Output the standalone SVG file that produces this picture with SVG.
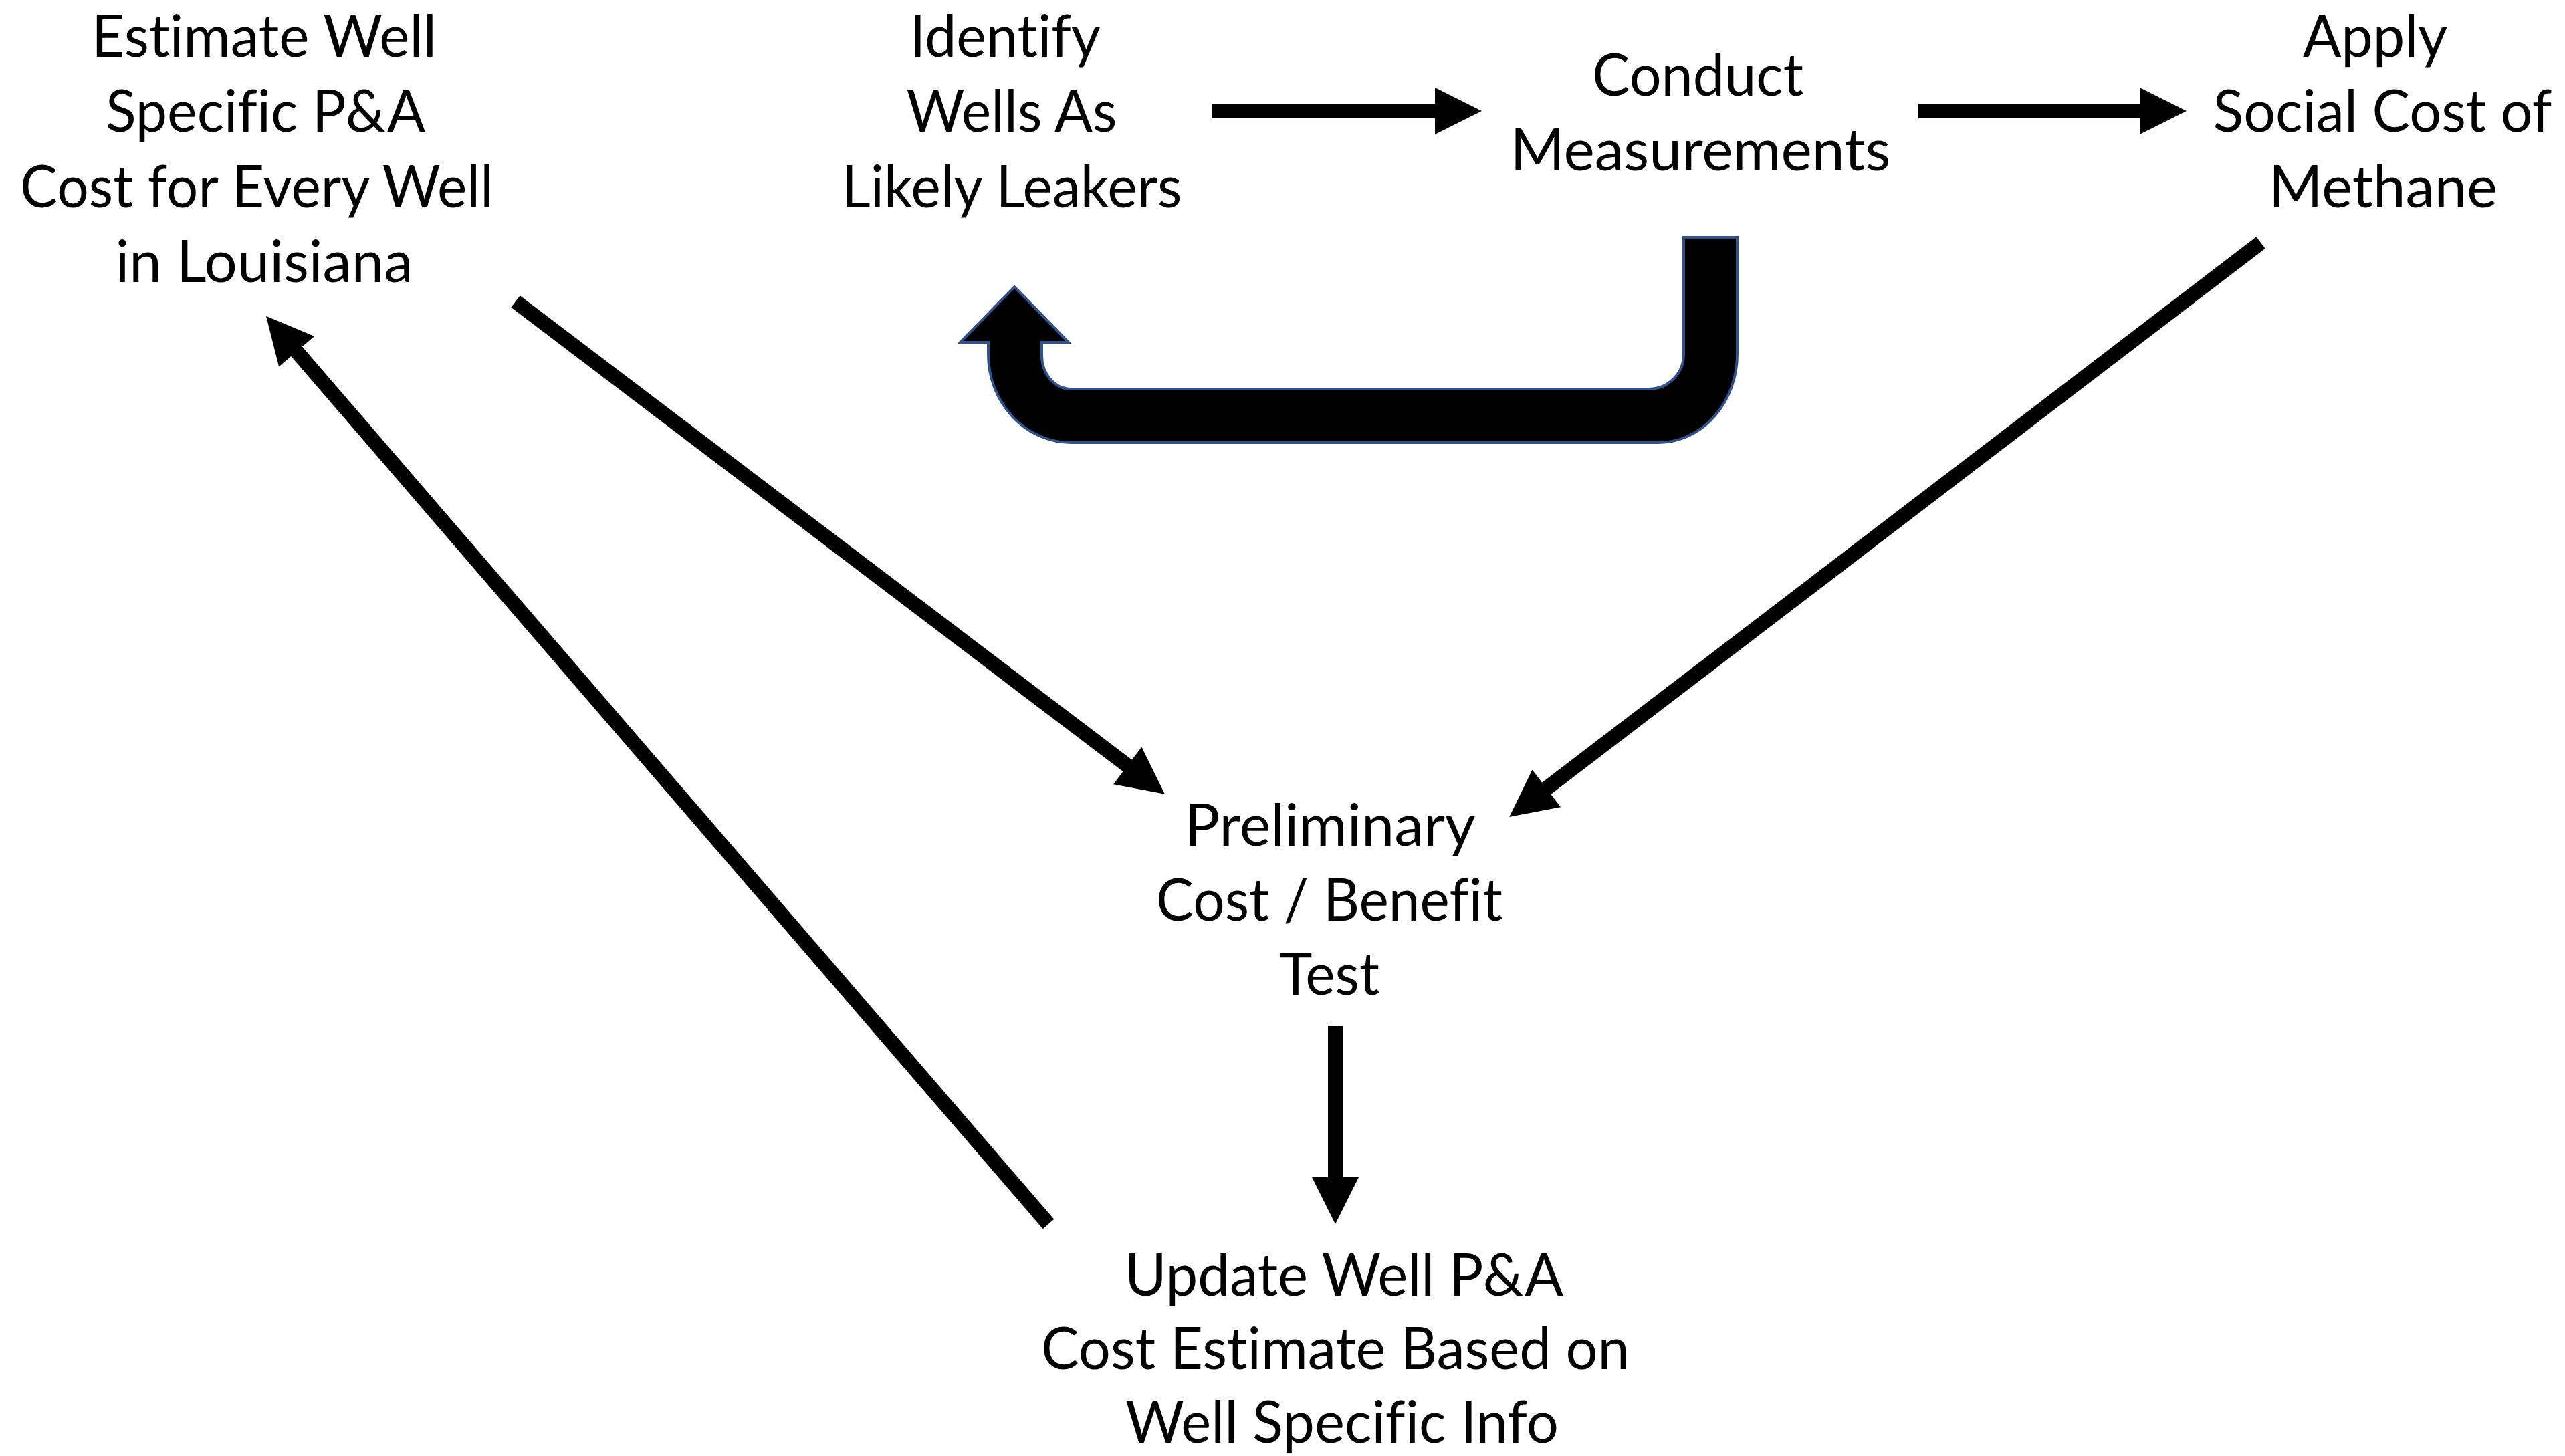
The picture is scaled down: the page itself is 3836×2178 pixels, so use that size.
<svg xmlns="http://www.w3.org/2000/svg" width="3836" height="2178" viewBox="0 0 3836 2178">
<style>
text{font-family:Lato,"Open Sans","Liberation Sans",sans-serif;font-size:87px;fill:#000;text-anchor:middle;font-variant-ligatures:none;font-feature-settings:"liga" 0,"dlig" 0}
.ln{stroke:#000;stroke-width:22;fill:none;stroke-linecap:butt;marker-end:url(#ah)}
</style>
<defs>
<marker id="ah" markerUnits="userSpaceOnUse" viewBox="0 0 70 70" markerWidth="70" markerHeight="70" refX="1" refY="35" orient="auto" overflow="visible">
<path d="M0,0 L70,35 L0,70 Z" fill="#000"/>
</marker>
</defs>
<rect width="3836" height="2178" fill="#fff"/>
<g id="connectors">
<line class="ln" x1="1812" y1="166" x2="2147" y2="166"/>
<line class="ln" x1="2869" y1="166" x2="3201" y2="166"/>
<line class="ln" x1="771" y1="451" x2="1687" y2="1146"/>
<line class="ln" x1="3381" y1="363" x2="2312" y2="1180"/>
<line class="ln" x1="1997" y1="1535" x2="1997" y2="1762"/>
<line class="ln" x1="1568" y1="1831" x2="443" y2="525"/>
<path id="uturn" d="M2518,355 L2598,355 L2598,530 A118,132 0 0 1 2480,662 L1602,662 A124,132 0 0 1 1478,530 L1478,512 L1436,512 L1517,429 L1598,512 L1558,512 L1558,532 A44,50 0 0 0 1602,582 L2466,582 A52,52 0 0 0 2518,530 Z" fill="#000" stroke="#2F528F" stroke-width="4" stroke-linejoin="miter"/>
</g>
<g id="node-estimate">
<text x="395" y="85" textLength="516" lengthAdjust="spacingAndGlyphs">Estimate Well</text>
<text x="397" y="197" textLength="478" lengthAdjust="spacingAndGlyphs">Specific P&amp;A</text>
<text x="384" y="310" textLength="708" lengthAdjust="spacingAndGlyphs">Cost for Every Well</text>
<text x="395" y="422" textLength="445" lengthAdjust="spacingAndGlyphs">in Louisiana</text>
</g>
<g id="node-identify">
<text x="1503" y="85" textLength="285" lengthAdjust="spacingAndGlyphs">Identify</text>
<text x="1513" y="197" textLength="315" lengthAdjust="spacingAndGlyphs">Wells As</text>
<text x="1513" y="310" textLength="509" lengthAdjust="spacingAndGlyphs">Likely Leakers</text>
</g>
<g id="node-conduct">
<text x="2539" y="143" textLength="316" lengthAdjust="spacingAndGlyphs">Conduct</text>
<text x="2543" y="255" textLength="569" lengthAdjust="spacingAndGlyphs">Measurements</text>
</g>
<g id="node-apply">
<text x="3552" y="85" textLength="216" lengthAdjust="spacingAndGlyphs">Apply</text>
<text x="3563" y="197" textLength="507" lengthAdjust="spacingAndGlyphs">Social Cost of</text>
<text x="3564" y="310" textLength="342" lengthAdjust="spacingAndGlyphs">Methane</text>
</g>
<g id="node-preliminary">
<text x="1989" y="1265" textLength="435" lengthAdjust="spacingAndGlyphs">Preliminary</text>
<text x="1988" y="1377" textLength="518" lengthAdjust="spacingAndGlyphs">Cost / Benefit</text>
<text x="1988" y="1488" textLength="150" lengthAdjust="spacingAndGlyphs">Test</text>
</g>
<g id="node-update">
<text x="2010" y="1938" textLength="656" lengthAdjust="spacingAndGlyphs">Update Well P&amp;A</text>
<text x="1997" y="2048" textLength="880" lengthAdjust="spacingAndGlyphs">Cost Estimate Based on</text>
<text x="2007" y="2158" textLength="648" lengthAdjust="spacingAndGlyphs">Well Specific Info</text>
</g>
</svg>
